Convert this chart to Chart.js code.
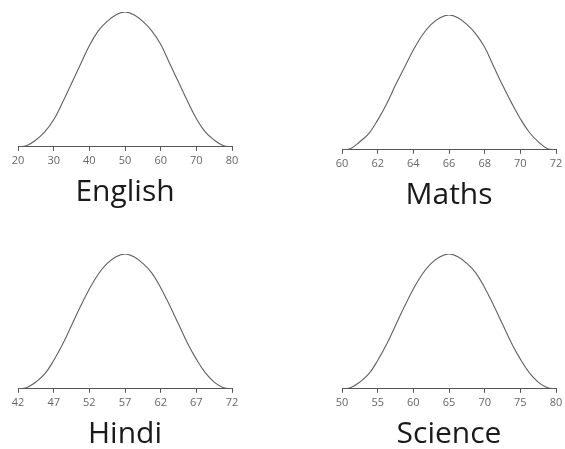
<!DOCTYPE html>
<html>
<head>
<meta charset="utf-8">
<script src="https://cdn.jsdelivr.net/npm/chart.js@4.4.1/dist/chart.umd.min.js"></script>
<style>
    html, body { margin: 0; padding: 0; background: #fff; overflow: hidden; }
    .box { position: absolute; width: 234px; height: 208px; }
</style>
</head>
<body>
<div class="box" style="left:8px;top:2px"><canvas id="english"></canvas></div>
<div class="box" style="left:332px;top:5px"><canvas id="maths"></canvas></div>
<div class="box" style="left:8px;top:244px"><canvas id="hindi"></canvas></div>
<div class="box" style="left:332px;top:244px"><canvas id="science"></canvas></div>
<script>
// marks (x) and relative frequency (y, % of peak)
const englishMarks = [20, 22.5, 25, 27.5, 30, 32.5, 35, 37.5, 40, 42.5, 45, 47.5, 50, 52.5, 55, 57.5, 60, 62.5, 65, 67.5, 70, 72.5, 75, 77.5, 80];
const englishFreq = [0, 1, 5, 11, 20, 33, 47, 61, 75, 86, 93, 98, 100, 98, 93, 86, 76, 62, 48, 34, 21, 11, 5, 1, 0];
const englishTicks = [20, 30, 40, 50, 60, 70, 80];

const mathsMarks = [60, 60.5, 61, 61.5, 62, 62.5, 63, 63.5, 64, 64.5, 65, 65.5, 66, 66.5, 67, 67.5, 68, 68.5, 69, 69.5, 70, 70.5, 71, 71.5, 72];
const mathsFreq = [0, 1, 6, 12, 22, 34, 48, 61, 74, 85, 93, 98, 100, 98, 93, 86, 76, 62, 48, 35, 23, 13, 6, 1, 0];
const mathsTicks = [60, 62, 64, 66, 68, 70, 72];

const hindiMarks = [42, 43.25, 44.5, 45.75, 47, 48.25, 49.5, 50.75, 52, 53.25, 54.5, 55.75, 57, 58.25, 59.5, 60.75, 62, 63.25, 64.5, 65.75, 67, 68.25, 69.5, 70.75, 72];
const hindiFreq = [0, 1, 5, 11, 21, 33, 47, 61, 74, 85, 93, 98, 100, 98, 93, 86, 75, 62, 48, 34, 22, 12, 5, 1, 0];
const hindiTicks = [42, 47, 52, 57, 62, 67, 72];

const scienceMarks = [50, 51.25, 52.5, 53.75, 55, 56.25, 57.5, 58.75, 60, 61.25, 62.5, 63.75, 65, 66.25, 67.5, 68.75, 70, 71.25, 72.5, 73.75, 75, 76.25, 77.5, 78.75, 80];
const scienceFreq = [0, 1, 5, 11, 21, 33, 47, 61, 74, 85, 93, 98, 100, 98, 93, 86, 75, 62, 48, 34, 22, 12, 5, 1, 0];
const scienceTicks = [50, 55, 60, 65, 70, 75, 80];

function makeChart(id, title, marks, freq, ticks) {
    const ctx = document.getElementById(id).getContext('2d');
    return new Chart(ctx, {
        type: 'line',
        data: {
            datasets: [{
                data: marks.map((m, i) => ({ x: m, y: freq[i] })),
                borderColor: '#606060',
                borderWidth: 1.1,
                pointRadius: 0,
                fill: false,
                tension: 0.4
            }]
        },
        options: {
            responsive: true,
            maintainAspectRatio: false,
            animation: false,
            layout: { padding: { left: 10, right: 10, top: 10, bottom: 0 } },
            plugins: {
                legend: { display: false },
                tooltip: { enabled: false },
                title: {
                    display: true,
                    position: 'bottom',
                    text: title,
                    color: '#1a1a1a',
                    font: { family: 'Open Sans', size: 30, weight: 'normal' },
                    padding: { top: 4, bottom: 0 }
                }
            },
            scales: {
                x: {
                    type: 'linear',
                    min: ticks[0],
                    max: ticks[ticks.length - 1],
                    afterBuildTicks: axis => {
                        axis.ticks = ticks.map(v => ({ value: v }));
                    },
                    afterFit: axis => {
                        axis.paddingLeft = 0;
                        axis.paddingRight = 0;
                    },
                    grid: {
                        drawOnChartArea: false,
                        drawTicks: true,
                        tickLength: 4,
                        color: '#555'
                    },
                    border: { display: true, color: '#555', width: 1 },
                    ticks: {
                        color: '#666',
                        padding: 3,
                        maxRotation: 0,
                        autoSkip: false,
                        font: { family: 'Open Sans', size: 11 }
                    }
                },
                y: {
                    display: false,
                    min: 0,
                    max: 100
                }
            }
        }
    });
}

makeChart('english', 'English', englishMarks, englishFreq, englishTicks);
makeChart('maths', 'Maths', mathsMarks, mathsFreq, mathsTicks);
makeChart('hindi', 'Hindi', hindiMarks, hindiFreq, hindiTicks);
makeChart('science', 'Science', scienceMarks, scienceFreq, scienceTicks);
</script>
</body>
</html>
